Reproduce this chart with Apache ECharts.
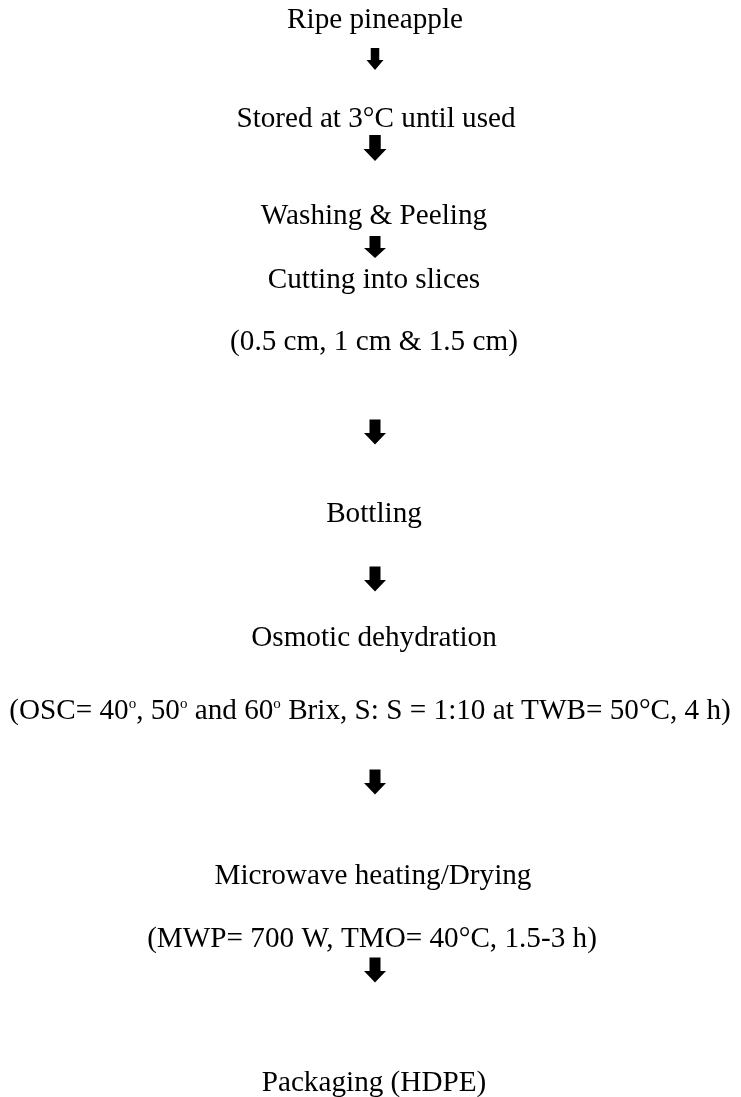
<!DOCTYPE html>
<html>
<head>
<meta charset="utf-8">
<script src="https://cdn.jsdelivr.net/npm/echarts@6/dist/echarts.min.js"></script>
<style>
html,body{margin:0;padding:0;background:#fff;}
#chart{width:741px;height:1097px;}
</style>
</head>
<body>
<div id="chart"></div>
<script>
// Flowchart steps (text lines), top to bottom
const stepLabels = [
  'Ripe pineapple',
  'Stored at 3°C until used',
  'Washing & Peeling',
  'Cutting into slices',
  '(0.5 cm, 1 cm & 1.5 cm)',
  'Bottling',
  'Osmotic dehydration',
  '(OSC= 40{sup|o}, 50{sup|o} and 60{sup|o} Brix, S: S = 1:10 at TWB= 50°C, 4 h)',
  'Microwave heating/Drying',
  '(MWP= 700 W, TMO= 40°C, 1.5-3 h)',
  'Packaging (HDPE)'
];
// vertical position of each text line (px from top)
const stepRows = [20, 119, 216, 280, 342, 514, 638, 711, 876, 939, 1083];
// horizontal centre of each text line (px from left)
const stepCols = [375, 376, 374, 374, 374, 374, 374, 370, 373, 372, 374];
// arrows between stages (px from top, centre)
const arrowRows = [59, 148, 247, 432, 579, 782, 970];

const W = 741, H = 1097;
const arrowSizes = [[17,22],[23,26],[22,22],[22,25],[22,25],[22,25],[22,25]];
const arrowPath = 'path://M4.5,0 L13.5,0 L13.5,13 L18,13 L9,24 L0,13 L4.5,13 Z';

const chart = echarts.init(document.getElementById('chart'), null, {renderer:'canvas'});
chart.setOption({
  backgroundColor: '#ffffff',
  animation: false,
  grid: {left: 0, right: 0, top: 0, bottom: 0},
  xAxis: {type: 'value', min: 0, max: W, show: false},
  yAxis: {type: 'value', min: 0, max: H, inverse: true, show: false},
  series: [
    {
      type: 'scatter',
      symbolSize: 0,
      itemStyle: {opacity: 1},
      data: stepLabels.map((t, i) => ({value: [stepCols[i], stepRows[i]], name: t})),
      label: {
        show: true,
        position: 'inside',
        formatter: p => p.name,
        color: '#000',
        opacity: 1,
        fontFamily: 'Liberation Serif',
        fontSize: 29.2,
        rich: {
          sup: {fontSize: 15, fontFamily: 'Liberation Serif', color: '#000', verticalAlign: 'top', padding: [0,0,10,0]}
        }
      },
      silent: true
    },
    {
      type: 'scatter',
      symbol: arrowPath,
      symbolKeepAspect: false,
      data: arrowRows.map((y, i) => ({value: [375, y], symbolSize: arrowSizes[i]})),
      itemStyle: {color: '#000', opacity: 1},
      silent: true
    }
  ]
});
</script>
</body>
</html>
